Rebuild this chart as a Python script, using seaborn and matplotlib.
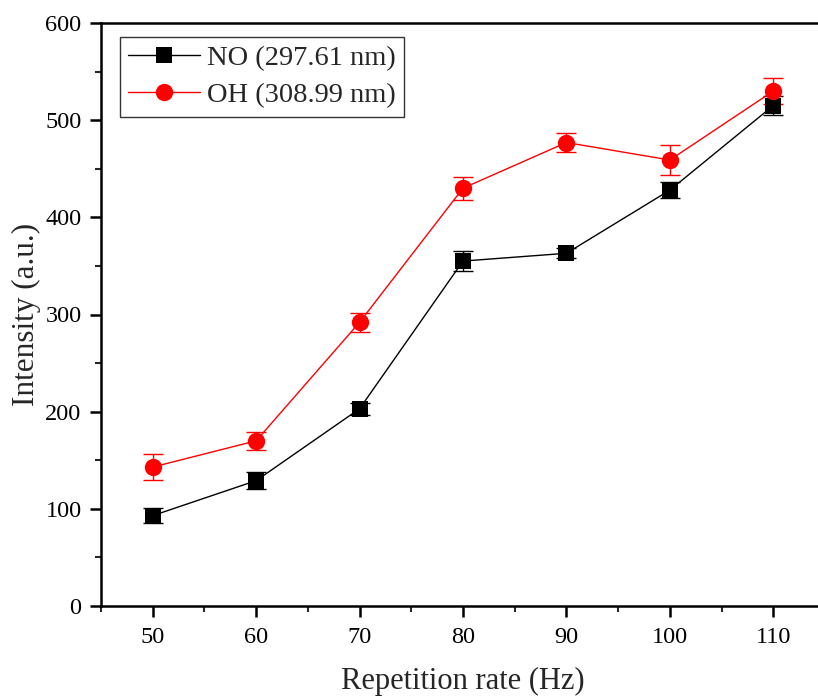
import matplotlib
matplotlib.use("Agg")
import matplotlib.pyplot as plt
import seaborn as sns
import pandas as pd
from matplotlib.ticker import MultipleLocator

# Emission intensity vs. repetition rate
rate = [50, 60, 70, 80, 90, 100, 110]
no_intensity = [93, 129, 203, 355, 363, 428, 515]
no_err = [8, 9, 6, 10, 5, 8, 10]
oh_intensity = [143, 170, 292, 430, 477, 459, 530]
oh_err = [13, 9, 10, 12, 10, 15, 13]
labels = ["NO (297.61 nm)", "OH (308.99 nm)"]

sns.set_style("ticks")
plt.rcParams["font.family"] = ["Liberation Serif", "DejaVu Serif"]

df = pd.concat([
    pd.DataFrame({"rate": rate, "intensity": no_intensity, "species": labels[0]}),
    pd.DataFrame({"rate": rate, "intensity": oh_intensity, "species": labels[1]}),
])

fig = plt.figure(figsize=(8.18, 6.97), dpi=100)
ax = fig.add_axes([101 / 818, 1 - 606 / 697, (825 - 101) / 818, (606 - 23) / 697])

palette = {labels[0]: "black", labels[1]: "#ff0000"}
sns.lineplot(data=df, x="rate", y="intensity", hue="species", style="species",
             palette=palette, markers={labels[0]: "s", labels[1]: "o"},
             dashes=False, linewidth=1.0, markersize=11, markeredgewidth=0,
             ax=ax, legend=True)
# circles drawn a little larger than the squares
for line in ax.lines:
    if line.get_marker() == "o":
        line.set_markersize(12.5)

ax.errorbar(rate, no_intensity, yerr=no_err, fmt="none", ecolor="black",
            elinewidth=1.0, capsize=7, capthick=1.0, zorder=1)
ax.errorbar(rate, oh_intensity, yerr=oh_err, fmt="none", ecolor="#ff0000",
            elinewidth=1.0, capsize=7, capthick=1.0, zorder=1)

ax.set_xlim(45, 115)
ax.set_ylim(0, 600)
ax.xaxis.set_major_locator(MultipleLocator(10))
ax.xaxis.set_minor_locator(MultipleLocator(5))
ax.yaxis.set_major_locator(MultipleLocator(100))
ax.yaxis.set_minor_locator(MultipleLocator(50))

for s in ax.spines.values():
    s.set_linewidth(1.8)
    s.set_color("black")

ax.tick_params(axis="x", which="major", pad=7)
ax.tick_params(axis="y", which="major", pad=6)
ax.tick_params(which="major", direction="out", length=8, width=1.8,
               labelsize=17.5, colors="black", top=False, right=False)
ax.tick_params(which="minor", direction="out", length=4, width=1.5,
               top=False, right=False)

ax.set_xlabel("Repetition rate (Hz)", fontsize=22, labelpad=14)
ax.set_ylabel("Intensity (a.u.)", fontsize=22.5, labelpad=3)

leg = ax.legend(loc="upper left", bbox_to_anchor=(0.026, 0.976), fontsize=20.5,
                frameon=True, fancybox=False, edgecolor="black",
                handlelength=2.5, handletextpad=0.25, borderpad=0.3,
                labelspacing=0.38, borderaxespad=0.0)
leg.get_frame().set_linewidth(1.0)
leg.set_title(None)

fig.savefig("out.png", dpi=100)
